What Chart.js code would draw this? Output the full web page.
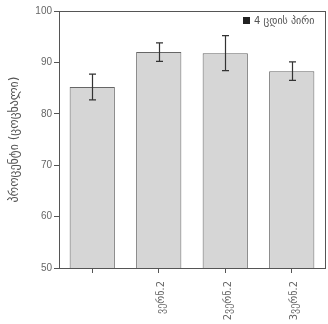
<!DOCTYPE html>
<html>
<head>
<meta charset="utf-8">
<script src="https://cdn.jsdelivr.net/npm/chart.js@4.4.0/dist/chart.umd.min.js"></script>
<style>
  html, body { margin: 0; padding: 0; background: #fff; }
  #wrap { width: 328px; height: 324px; position: relative; }
</style>
</head>
<body>
<div id="wrap"><canvas id="chart"></canvas></div>
<script>
  // ── Data ──
  const categories = ['', 'ვერნ.2', '2ვერნ.2', '3ვერნ.2'];
  const values = [85.2, 92.0, 91.8, 88.3];
  const errors = [2.5, 1.8, 3.4, 1.8];
  const seriesLabel = '4 ცდის პირი';
  const yTitle = 'პროცენტი (ცოცხალი)';

  const FRAME = '#555';
  const FONT = "'DejaVu Sans', sans-serif";

  // error bars drawn through the y scale
  const errorBars = {
    id: 'errorBars',
    afterDatasetsDraw(chart) {
      const ctx = chart.ctx;
      const y = chart.scales.y;
      const meta = chart.getDatasetMeta(0);
      ctx.save();
      ctx.strokeStyle = '#333';
      ctx.lineWidth = 1.2;
      meta.data.forEach((bar, i) => {
        const x = Math.round(bar.x) + 0.5;
        const top = y.getPixelForValue(values[i] + errors[i]);
        const bot = y.getPixelForValue(values[i] - errors[i]);
        ctx.beginPath();
        ctx.moveTo(x, top); ctx.lineTo(x, bot);
        ctx.moveTo(x - 3.5, top); ctx.lineTo(x + 3.5, top);
        ctx.moveTo(x - 3.5, bot); ctx.lineTo(x + 3.5, bot);
        ctx.stroke();
      });
      ctx.restore();
    }
  };

  // frame around plot + legend inside top right
  const frameLegend = {
    id: 'frameLegend',
    afterDraw(chart) {
      const { ctx, chartArea: a } = chart;
      ctx.save();
      ctx.strokeStyle = FRAME;
      ctx.lineWidth = 1;
      ctx.strokeRect(a.left + 0.5, a.top + 0.5, a.right - a.left, a.bottom - a.top);
      ctx.fillStyle = '#222';
      ctx.fillRect(a.right - 82, a.top + 6, 7, 7);
      ctx.font = '10px ' + FONT;
      ctx.fillStyle = '#555';
      ctx.textBaseline = 'middle';
      ctx.fillText(seriesLabel, a.right - 71, a.top + 10);
      ctx.restore();
    }
  };

  new Chart(document.getElementById('chart'), {
    type: 'bar',
    data: {
      labels: categories,
      datasets: [{
        label: seriesLabel,
        data: values,
        backgroundColor: '#d6d6d6',
        borderColor: '#666',
        borderWidth: 1,
        categoryPercentage: 0.68,
        barPercentage: 1
      }]
    },
    options: {
      responsive: true,
      maintainAspectRatio: false,
      animation: false,
      layout: { padding: { left: 0, right: 3, top: 11, bottom: 0 } },
      plugins: { legend: { display: false }, tooltip: { enabled: false } },
      scales: {
        x: {
          afterFit(s) { s.height = 56; },
          grid: { display: true, offset: false, drawOnChartArea: false, tickLength: 5, color: FRAME },
          border: { color: FRAME },
          ticks: {
            minRotation: 90, maxRotation: 90,
            color: '#666', padding: 8, labelOffset: 3,
            font: { family: FONT, size: 10 }
          }
        },
        y: {
          min: 50, max: 100,
          afterFit(s) { s.width = 59; },
          grid: { drawOnChartArea: false, tickLength: 5, color: FRAME },
          border: { color: FRAME },
          ticks: { stepSize: 10, color: '#666', padding: 2, font: { family: "'Liberation Sans', Arial, sans-serif", size: 10 } },
          title: { display: true, text: yTitle, color: '#555', padding: { top: 8, bottom: 2 }, font: { family: FONT, size: 12 } }
        }
      }
    },
    plugins: [errorBars, frameLegend]
  });
</script>
</body>
</html>
